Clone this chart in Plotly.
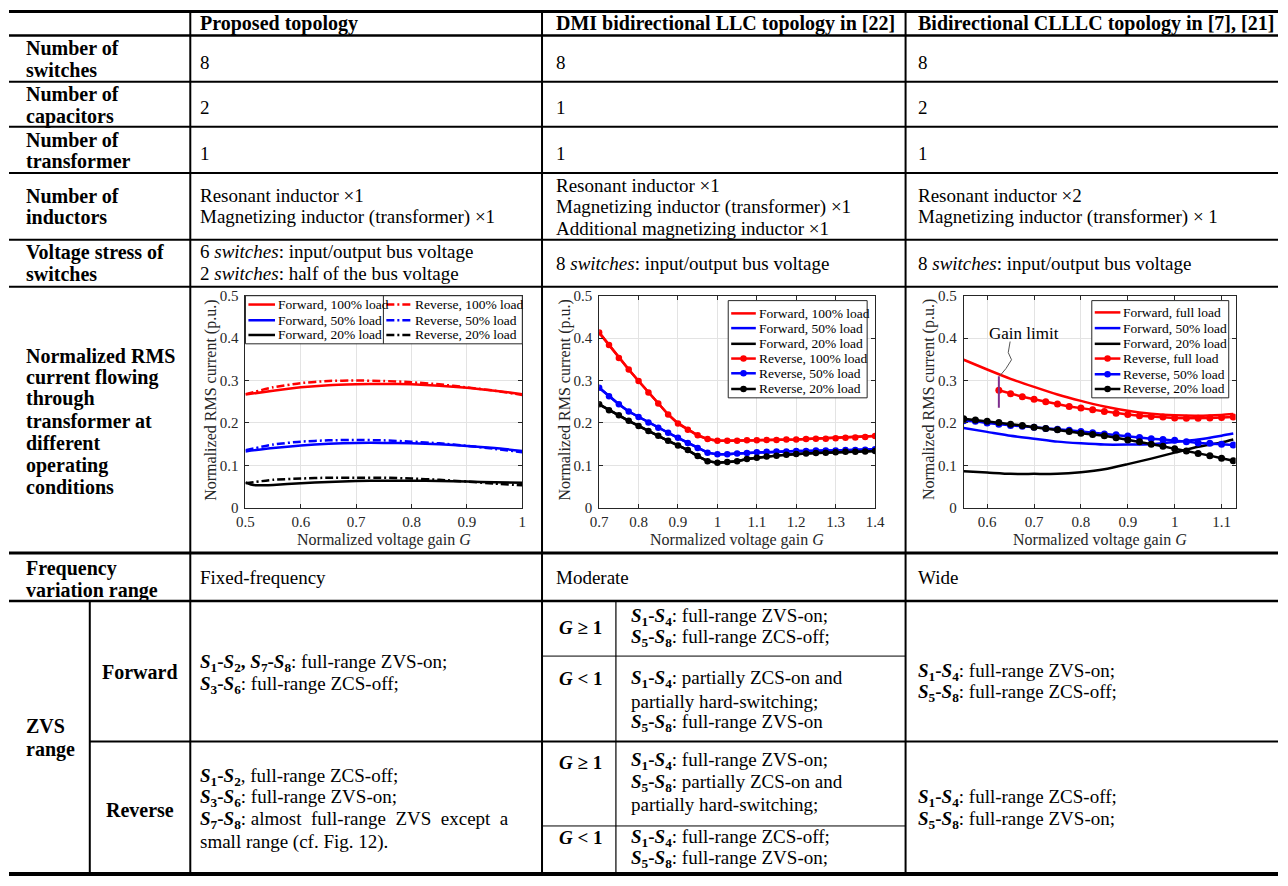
import plotly.graph_objects as go

W, H = 1288, 886
FONT = "Liberation Serif"
TXT = "black"
AX = "#262626"
FS = 19      # regular table text
FSB = 20     # bold table text

# ---------------- chart data ----------------
# Chart 1 : proposed topology
C1_X = [0.5, 0.55, 0.6, 0.65, 0.7, 0.75, 0.8, 0.85, 0.9, 0.95, 1.0]
C1_F100 = [0.267, 0.276, 0.284, 0.289, 0.291, 0.292, 0.291, 0.288, 0.283, 0.276, 0.268]
C1_R100 = [0.268, 0.284, 0.294, 0.299, 0.300, 0.299, 0.296, 0.291, 0.284, 0.276, 0.266]
C1_F50 = [0.133, 0.141, 0.147, 0.151, 0.153, 0.153, 0.152, 0.150, 0.146, 0.141, 0.134]
C1_R50 = [0.136, 0.149, 0.156, 0.159, 0.160, 0.159, 0.156, 0.152, 0.146, 0.139, 0.131]
C1_X20F = [0.5, 0.51, 0.52, 0.55, 0.6, 0.65, 0.7, 0.75, 0.8, 0.85, 0.9, 0.95, 1.0]
C1_F20 = [0.060, 0.055, 0.053, 0.054, 0.058, 0.061, 0.063, 0.064, 0.064, 0.063, 0.062, 0.060, 0.059]
C1_R20 = [0.058, 0.066, 0.069, 0.071, 0.071, 0.071, 0.069, 0.066, 0.062, 0.057, 0.053]

# Chart 2 : DMI bidirectional LLC
C2_X = [0.7, 0.725, 0.75, 0.775, 0.8, 0.825, 0.85, 0.875, 0.9, 0.925, 0.95, 0.975, 1.0,
        1.025, 1.05, 1.075, 1.1, 1.125, 1.15, 1.175, 1.2, 1.225, 1.25, 1.275, 1.3,
        1.325, 1.35, 1.375, 1.4]
C2_R100 = [0.413, 0.384, 0.353, 0.326, 0.299, 0.272, 0.246, 0.220, 0.199, 0.184, 0.171, 0.162, 0.158,
           0.158, 0.158, 0.159, 0.159, 0.160, 0.160, 0.161, 0.161, 0.162, 0.163, 0.163, 0.164,
           0.165, 0.166, 0.167, 0.169]
C2_R50 = [0.283, 0.263, 0.244, 0.227, 0.214, 0.201, 0.189, 0.177, 0.165, 0.153, 0.141, 0.130, 0.126,
          0.126, 0.128, 0.129, 0.131, 0.132, 0.133, 0.133, 0.134, 0.134, 0.135, 0.135, 0.135,
          0.136, 0.136, 0.137, 0.138]
C2_R20 = [0.244, 0.230, 0.218, 0.205, 0.193, 0.181, 0.170, 0.158, 0.147, 0.136, 0.122, 0.110, 0.106,
          0.108, 0.110, 0.115, 0.118, 0.121, 0.123, 0.125, 0.127, 0.128, 0.129, 0.130, 0.131,
          0.132, 0.132, 0.133, 0.134]
C2_F100 = list(C2_R100)
C2_F50 = list(C2_R50)
C2_F20 = list(C2_R20)

# Chart 3 : bidirectional CLLLC
C3_XF = [0.55, 0.6, 0.65, 0.7, 0.75, 0.8, 0.85, 0.9, 0.95, 1.0, 1.05, 1.1, 1.125]
C3_FFULL = [0.349, 0.326, 0.304, 0.285, 0.267, 0.252, 0.239, 0.229, 0.222, 0.218, 0.217, 0.219, 0.221]
C3_F50 = [0.188, 0.179, 0.170, 0.163, 0.156, 0.152, 0.149, 0.149, 0.150, 0.155, 0.161, 0.170, 0.175]
C3_F20 = [0.086, 0.083, 0.080, 0.080, 0.080, 0.084, 0.091, 0.103, 0.116, 0.130, 0.144, 0.154, 0.161]
C3_XR = [0.55, 0.575, 0.6, 0.625, 0.65, 0.675, 0.7, 0.725, 0.75, 0.775, 0.8, 0.825, 0.85, 0.875,
         0.9, 0.925, 0.95, 0.975, 1.0, 1.025, 1.05, 1.075, 1.1, 1.125]
C3_XRFULL = C3_XR[3:]
C3_RFULL = [0.277, 0.269, 0.262, 0.256, 0.250, 0.245, 0.239, 0.235, 0.231, 0.227, 0.223, 0.220,
            0.217, 0.215, 0.214, 0.212, 0.211, 0.211, 0.212, 0.213, 0.214]
C3_R50 = [0.205, 0.204, 0.200, 0.197, 0.194, 0.192, 0.190, 0.187, 0.185, 0.183, 0.180, 0.177,
          0.174, 0.172, 0.169, 0.166, 0.163, 0.161, 0.159, 0.156, 0.153, 0.152, 0.150, 0.148]
C3_R20 = [0.210, 0.207, 0.204, 0.201, 0.197, 0.194, 0.190, 0.187, 0.184, 0.180, 0.176, 0.173,
          0.170, 0.165, 0.160, 0.156, 0.150, 0.145, 0.139, 0.134, 0.128, 0.123, 0.117, 0.111]
GAIN_LIMIT_X = 0.625
GAIN_LIMIT_Y = [0.236, 0.31]

Y_TICKS = [0, 0.1, 0.2, 0.3, 0.4, 0.5]
Y_TICKTEXT = ["0", "0.1", "0.2", "0.3", "0.4", "0.5"]
X1_TICKS = [0.5, 0.6, 0.7, 0.8, 0.9, 1.0]
X1_TICKTEXT = ["0.5", "0.6", "0.7", "0.8", "0.9", "1"]
X2_TICKS = [0.7, 0.8, 0.9, 1.0, 1.1, 1.2, 1.3, 1.4]
X2_TICKTEXT = ["0.7", "0.8", "0.9", "1", "1.1", "1.2", "1.3", "1.4"]
X3_TICKS = [0.6, 0.7, 0.8, 0.9, 1.0, 1.1]
X3_TICKTEXT = ["0.6", "0.7", "0.8", "0.9", "1", "1.1"]

LEG1 = ["Forward, 100% load", "Reverse, 100% load", "Forward, 50% load",
        "Reverse, 50% load", "Forward, 20% load", "Reverse, 20% load"]
LEG2 = ["Forward, 100% load", "Forward, 50% load", "Forward, 20% load",
        "Reverse, 100% load", "Reverse, 50% load", "Reverse, 20% load"]
LEG3 = ["Forward, full load", "Forward, 50% load", "Forward, 20% load",
        "Reverse, full load", "Reverse, 50% load", "Reverse, 20% load"]

# ---------------- table text ----------------
COL_HEADERS = ["Proposed topology", "DMI bidirectional LLC topology in [22]",
               "Bidirectional CLLLC topology in [7], [21]"]


def S(a, b):
    return f"<b><i>S</i><sub>{a}</sub>-<i>S</i><sub>{b}</sub></b>"


RED, BLUE, BLACK = "#ff0000", "#0000ff", "#000000"
PURPLE = "#7e2f8e"

shapes = []
annotations = []


def px(x):
    return x / W


def py(y):
    return 1 - y / H


def txt(x, y, s, size=FS, anchor="left", color=TXT, **kw):
    annotations.append(dict(x=px(x), y=py(y), xref="paper", yref="paper", text=s,
                            showarrow=False, xanchor=anchor, yanchor="middle",
                            font=dict(family=FONT, size=size, color=color), **kw))


def hline(x0, x1, y, w=2, color="black"):
    shapes.append(dict(type="line", xref="paper", yref="paper", x0=px(x0), x1=px(x1),
                       y0=py(y), y1=py(y), line=dict(color=color, width=w)))


def vline(x, y0, y1, w=2, color="black"):
    shapes.append(dict(type="line", xref="paper", yref="paper", x0=px(x), x1=px(x),
                       y0=py(y0), y1=py(y1), line=dict(color=color, width=w)))


# ---------------- grid lines of the table ----------------
XC0, XC1, XC2 = 184, 541, 910
hline(0, W, 3.5, 3)
hline(0, W, 28, 2.5)
for yy in [75, 121, 168, 236, 284]:
    hline(0, W, yy, 2)
hline(0, W, 555, 3)
hline(0, W, 604, 2.5)
hline(82, W, 747, 2)
hline(XC1, XC2, 660, 1)
hline(XC1, XC2, 833, 1)
hline(0, W, 882, 4)
for xx in [XC0, XC1, XC2]:
    vline(xx, 3, 882, 2)
vline(82, 604, 882, 2)
vline(616, 604, 882, 1.2)

# ---------------- table text ----------------
RX = 15
TX1, TX2, TX3 = 192, 553, 921
for x, h in zip([TX1, TX2, TX3], COL_HEADERS):
    txt(x, 15.5, f"<b>{h}</b>", size=FSB)


def rowhead(lines, ys):
    for l, y in zip(lines, ys):
        txt(RX, y, f"<b>{l}</b>", size=FSB)


rowhead(["Number of", "switches"], [41, 63])
rowhead(["Number of", "capacitors"], [88, 110])
rowhead(["Number of", "transformer"], [134, 156])
rowhead(["Number of", "inductors"], [191, 213])
rowhead(["Voltage stress of", "switches"], [249, 271])
rowhead(["Normalized RMS", "current flowing", "through", "transformer at",
         "different", "operating", "conditions"], [354, 376, 398, 421, 443, 466, 488])
rowhead(["Frequency", "variation range"], [571, 593])
rowhead(["ZVS", "range"], [731, 755])
txt((82 + XC0) / 2, 676, "<b>Forward</b>", size=FSB, anchor="center")
txt((82 + XC0) / 2, 817, "<b>Reverse</b>", size=FSB, anchor="center")

for x, v in zip([TX1, TX2, TX3], ["8", "8", "8"]):
    txt(x, 55, v)
for x, v in zip([TX1, TX2, TX3], ["2", "1", "2"]):
    txt(x, 101, v)
for x, v in zip([TX1, TX2, TX3], ["1", "1", "1"]):
    txt(x, 148, v)

txt(TX1, 191, "Resonant inductor ×1")
txt(TX1, 213, "Magnetizing inductor (transformer) ×1")
txt(TX2, 181, "Resonant inductor ×1")
txt(TX2, 203, "Magnetizing inductor (transformer) ×1")
txt(TX2, 225, "Additional magnetizing inductor ×1")
txt(TX3, 191, "Resonant inductor ×2")
txt(TX3, 213, "Magnetizing inductor (transformer) × 1")

txt(TX1, 248, "6 <i>switches</i>: input/output bus voltage")
txt(TX1, 270, "2 <i>switches</i>: half of the bus voltage")
txt(TX2, 260, "8 <i>switches</i>: input/output bus voltage")
txt(TX3, 260, "8 <i>switches</i>: input/output bus voltage")

txt(TX1, 580, "Fixed-frequency")
txt(TX2, 580, "Moderate")
txt(TX3, 580, "Wide")

# ZVS forward
txt(TX1, 667, "<b><i>S</i><sub>1</sub>-<i>S</i><sub>2</sub>, <i>S</i><sub>7</sub>-<i>S</i><sub>8</sub></b>: full-range ZVS-on;")
txt(TX1, 689, f"{S(3, 6)}: full-range ZCS-off;")
GX = XC1 + 15
SX = 629
txt(GX, 631, "<b><i>G</i> ≥ 1</b>")
txt(SX, 620, f"{S(1, 4)}: full-range ZVS-on;")
txt(SX, 642, f"{S(5, 8)}: full-range ZCS-off;")
txt(GX, 683, "<b><i>G</i> &lt; 1</b>")
txt(SX, 683, f"{S(1, 4)}: partially ZCS-on and")
txt(SX, 706, "partially hard-switching;")
txt(SX, 728, f"{S(5, 8)}: full-range ZVS-on")
txt(TX3, 676, f"{S(1, 4)}: full-range ZVS-on;")
txt(TX3, 698, f"{S(5, 8)}: full-range ZCS-off;")

# ZVS reverse
txt(TX1, 783, f"{S(1, 2)}, full-range ZCS-off;")
txt(TX1, 805, f"{S(3, 6)}: full-range ZVS-on;")
txt(TX1, 827, f"{S(7, 8)}: almost  full-range  ZVS  except  a")
txt(TX1, 849, "small range (cf. Fig. 12).")
txt(GX, 768, "<b><i>G</i> ≥ 1</b>")
txt(SX, 767, f"{S(1, 4)}: full-range ZVS-on;")
txt(SX, 789, f"{S(5, 8)}: partially ZCS-on and")
txt(SX, 811, "partially hard-switching;")
txt(GX, 845, "<b><i>G</i> &lt; 1</b>")
txt(SX, 845, f"{S(1, 4)}: full-range ZCS-off;")
txt(SX, 867, f"{S(5, 8)}: full-range ZVS-on;")
txt(TX3, 805, f"{S(1, 4)}: full-range ZCS-off;")
txt(TX3, 827, f"{S(5, 8)}: full-range ZVS-on;")

# ---------------- charts ----------------
fig = go.Figure()
PT, PB = 293, 509
DOMS = [(240, 521), (599, 879), (969, 1245)]
XR = [[0.5, 1.0], [0.7, 1.4], [0.55, 1.13]]
XT = [(X1_TICKS, X1_TICKTEXT), (X2_TICKS, X2_TICKTEXT), (X3_TICKS, X3_TICKTEXT)]
DASHDOT = "8px,3px,2px,3px"


def line(i, x, y, color, dash="solid", markers=False, shape="spline"):
    ax = "" if i == 0 else str(i + 1)
    fig.add_trace(go.Scatter(
        x=x, y=y, xaxis="x" + ax, yaxis="y" + ax,
        mode="lines+markers" if markers else "lines",
        line=dict(color=color, width=2.5, dash=dash, shape=shape, smoothing=0.6),
        marker=dict(size=6.5 if i == 1 else 7, color=color),
        showlegend=False, hoverinfo="x+y"))


# chart 1
line(0, C1_X, C1_F100, RED)
line(0, C1_X, C1_R100, RED, DASHDOT)
line(0, C1_X, C1_F50, BLUE)
line(0, C1_X, C1_R50, BLUE, DASHDOT)
line(0, C1_X20F, C1_F20, BLACK)
line(0, C1_X, C1_R20, BLACK, DASHDOT)
# chart 2
line(1, C2_X, C2_F100, RED, shape="linear")
line(1, C2_X, C2_F50, BLUE, shape="linear")
line(1, C2_X, C2_F20, BLACK, shape="linear")
line(1, C2_X, C2_R100, RED, markers=True, shape="linear")
line(1, C2_X, C2_R50, BLUE, markers=True, shape="linear")
line(1, C2_X, C2_R20, BLACK, markers=True, shape="linear")
# chart 3
line(2, C3_XF, C3_FFULL, RED)
line(2, C3_XF, C3_F50, BLUE)
line(2, C3_XF, C3_F20, BLACK)
line(2, C3_XRFULL, C3_RFULL, RED, markers=True, shape="linear")
line(2, C3_XR, C3_R50, BLUE, markers=True, shape="linear")
line(2, C3_XR, C3_R20, BLACK, markers=True, shape="linear")

layout_axes = {}
for i, ((l, r), xr, (tv, tt)) in enumerate(zip(DOMS, XR, XT)):
    sx = "" if i == 0 else str(i + 1)
    common = dict(showline=True, linecolor=AX, linewidth=1, mirror="ticks",
                  ticks="inside", ticklen=4, tickcolor=AX,
                  showgrid=True, gridcolor="#e3e3e3", gridwidth=1, zeroline=False,
                  tickfont=dict(family=FONT, size=15, color=AX), fixedrange=True)
    layout_axes["xaxis" + sx] = dict(domain=[px(l), px(r)], range=xr, anchor="y" + sx,
                                     tickmode="array", tickvals=tv, ticktext=tt, **common)
    layout_axes["yaxis" + sx] = dict(domain=[py(PB), py(PT)], range=[0, 0.5], anchor="x" + sx,
                                     tickmode="array", tickvals=Y_TICKS, ticktext=Y_TICKTEXT,
                                     ticklabelstandoff=3, **common)
    txt((l + r) / 2, 542, "Normalized voltage gain <i>G</i>", size=16, anchor="center", color=AX)
    txt(l - 35, 399, "Normalized RMS current (p.u.)", size=16, anchor="center",
        color=AX, textangle=-90)


# ---------------- legends (drawn) ----------------
def legend_entry(x0, x1, y, color, dash, marker, label):
    shapes.append(dict(type="line", xref="paper", yref="paper", x0=px(x0), x1=px(x1),
                       y0=py(y), y1=py(y), line=dict(color=color, width=2.5, dash=dash)))
    if marker:
        cx = (x0 + x1) / 2
        shapes.append(dict(type="circle", xref="paper", yref="paper",
                           x0=px(cx - 3.3), x1=px(cx + 3.3), y0=py(y + 3.3), y1=py(y - 3.3),
                           fillcolor=color, line=dict(color=color, width=0)))
    txt(x1 + 1, y, label, size=13.5)


def legend_box(x0, x1, y0, y1):
    shapes.append(dict(type="rect", xref="paper", yref="paper", x0=px(x0), x1=px(x1),
                       y0=py(y1), y1=py(y0), fillcolor="white", line=dict(color=AX, width=1),
                       layer="above"))


# chart 1 legend: 2 columns
legend_box(240, 521, 293, 342)
vline(380, 293, 342, 1, AX)
cols = [(243, 270), (383, 409)]
rows1 = [302, 318, 333]
colors1 = [RED, RED, BLUE, BLUE, BLACK, BLACK]
for k, lab in enumerate(LEG1):
    c = cols[k % 2]
    legend_entry(c[0], c[1], rows1[k // 2], colors1[k], "solid" if k % 2 == 0 else DASHDOT, False, lab)

# chart 2 legend
legend_box(730, 871, 298, 397)
rows2 = [311, 326, 342, 357, 372, 388]
colors2 = [RED, BLUE, BLACK, RED, BLUE, BLACK]
for k, lab in enumerate(LEG2):
    legend_entry(733, 758, rows2[k], colors2[k], "solid", k >= 3, lab)

# chart 3 legend
legend_box(1099, 1238, 298, 397)
rows3 = [310, 326, 342, 357, 373, 388]
for k, lab in enumerate(LEG3):
    legend_entry(1102, 1128, rows3[k], colors2[k], "solid", k >= 3, lab)

# gain limit marker
shapes.append(dict(type="line", xref="x3", yref="y3", x0=GAIN_LIMIT_X, x1=GAIN_LIMIT_X,
                   y0=GAIN_LIMIT_Y[0], y1=GAIN_LIMIT_Y[1], line=dict(color=PURPLE, width=2)))
shapes.append(dict(type="path", xref="x3", yref="y3",
                   path="M 0.649 0.392 L 0.645 0.366 L 0.652 0.349 L 0.640 0.328 L 0.627 0.311",
                   line=dict(color="#555555", width=1)))
annotations.append(dict(x=0.6, y=0.41, xref="x3", yref="y3", text="Gain limit",
                        showarrow=False, xanchor="left", yanchor="middle",
                        font=dict(family=FONT, size=17, color="black")))

for s in shapes:
    s.setdefault("layer", "above")

fig.update_layout(width=W, height=H, margin=dict(l=0, r=0, t=0, b=0, pad=0),
                  paper_bgcolor="white", plot_bgcolor="white", showlegend=False,
                  shapes=shapes, annotations=annotations, **layout_axes)
fig.write_html("out.html")
